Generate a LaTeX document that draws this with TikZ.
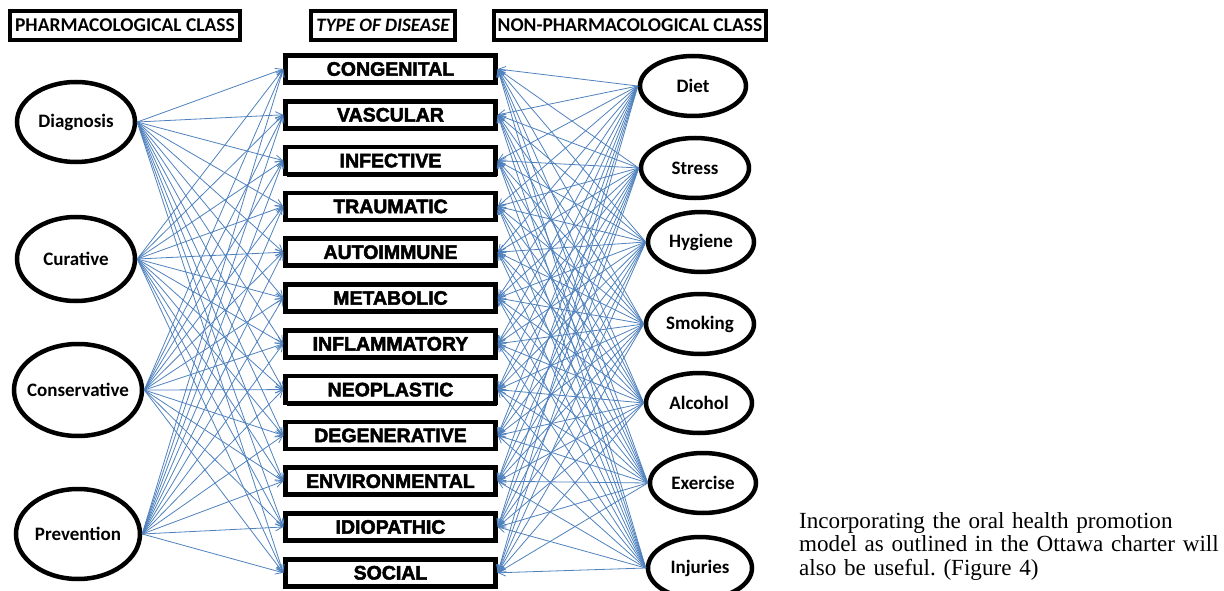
\documentclass[tikz,border=0pt]{standalone}
\usepackage{fontspec}
\setmainfont{Liberation Serif}
\newfontfamily\calb{Carlito}[BoldFont=Carlito Bold]
\newfontfamily\heavy{Liberation Sans Bold}[FakeBold=2.5]
\usetikzlibrary{arrows.meta,shadows,shapes.geometric}
\definecolor{linkblue}{RGB}{79,129,189}
\tikzset{
  headbox/.style={draw=black,line width=4pt,fill=white,minimum height=29pt,inner sep=0pt,font=\calb\bfseries\fontsize{19.5}{21}\selectfont},
  disbox/.style={draw=black,line width=4.5pt,fill=white,minimum width=210pt,minimum height=27pt,inner sep=0pt,
     general shadow={fill=black,shadow xshift=1.5pt,shadow yshift=-2.5pt},
     font=\heavy\fontsize{19.5}{21}\selectfont},
  oval/.style={draw=black,line width=4.5pt,fill=white,ellipse,inner sep=0pt,font=\calb\bfseries\fontsize{19}{21}\selectfont},
  link/.style={draw=linkblue,line width=0.8pt,-{Straight Barb[length=7pt,width=7pt]}}
}
\begin{document}
\begin{tikzpicture}[x=1pt,y=-1pt]
\useasboundingbox (0,0) rectangle (1224,591);
% headers
\node[headbox,minimum width=230pt] (h1) at (125,25.5) {PHARMACOLOGICAL CLASS};
\node[headbox,minimum width=144pt,font=\calb\bfseries\itshape\fontsize{19}{21}\selectfont] (h2) at (383,25.5) {TYPE OF DISEASE};
\node[headbox,minimum width=272pt] (h3) at (630,25.5) {NON-PHARMACOLOGICAL CLASS};
% left ellipses
\node[oval,minimum width=118pt,minimum height=80pt] (L1) at (76,122) {Diagnosis};
\node[oval,minimum width=118pt,minimum height=84pt] (L2) at (76,259) {Curative};
\node[oval,minimum width=128pt,minimum height=92pt,inner xsep=-14pt] (L3) at (78,390) {Conservative};
\node[oval,minimum width=124pt,minimum height=90pt] (L4) at (78,534) {Prevention};
% right ellipses
\node[oval,minimum width=106pt,minimum height=60pt] (R1) at (693,86) {Diet};
\node[oval,minimum width=108pt,minimum height=60pt] (R2) at (695,168) {Stress};
\node[oval,minimum width=106pt,minimum height=60pt] (R3) at (701,242) {Hygiene};
\node[oval,minimum width=108pt,minimum height=60pt] (R4) at (700,324) {Smoking};
\node[oval,minimum width=106pt,minimum height=60pt] (R5) at (699,403) {Alcohol};
\node[oval,minimum width=106pt,minimum height=60pt] (R6) at (703,483) {Exercise};
\node[oval,minimum width=104pt,minimum height=62pt] (R7) at (700,568) {Injuries};
% disease boxes
\foreach \t [count=\i] in {CONGENITAL,VASCULAR,INFECTIVE,TRAUMATIC,AUTOIMMUNE,METABOLIC,INFLAMMATORY,NEOPLASTIC,DEGENERATIVE,ENVIRONMENTAL,IDIOPATHIC,SOCIAL}{
  \node[disbox] (D\i) at (390.5,{69+45.8*(\i-1)}) {\t};
}
% connectors
\foreach \i in {1,...,12}{
  \foreach \l in {1,...,4}{
    \draw[link] (L\l.east) -- (D\i.west);
  }
  \foreach \r in {1,...,7}{
    \draw[link] (R\r.west) -- (D\i.east);
  }
}
% caption
\node[anchor=north west,inner sep=0pt,text width=430pt,align=left,font=\frenchspacing\fontsize{23.1}{23.5}\selectfont] (cap) at (799,512)
 {Incorporating the oral health promotion\\ model as outlined in the Ottawa charter will\\ also be useful. (Figure 4)};
\end{tikzpicture}
\end{document}
